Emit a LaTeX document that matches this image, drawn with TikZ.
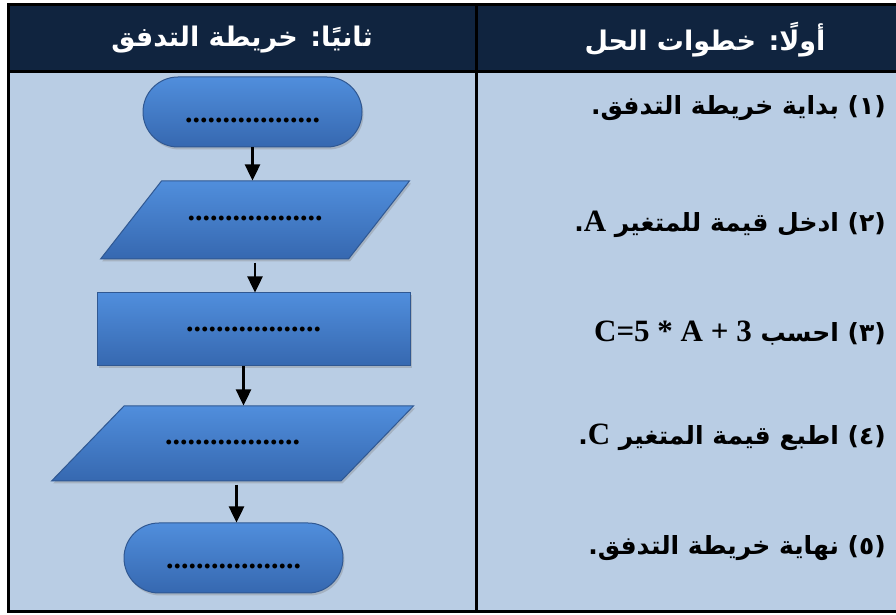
\documentclass[tikz,border=0pt]{standalone}
\usepackage{fontspec}
\usepackage{tikz}
\usetikzlibrary{shapes.geometric,arrows.meta,shadows}
\TeXXeTstate=1
\newfontfamily\arabicfont[Script=Arabic]{DejaVu Sans}
\newfontfamily\latinfont{Liberation Serif}
\newcommand\latinbit[1]{{\latinfont\bfseries\fontsize{31}{31}\selectfont #1}}
\definecolor{headblue}{RGB}{16,36,63}
\definecolor{cellblue}{RGB}{185,205,228}
\definecolor{boxtop}{RGB}{80,142,220}
\definecolor{boxbot}{RGB}{54,104,176}
\definecolor{boxline}{RGB}{48,88,146}

\begin{document}
\begin{tikzpicture}[x=1pt,y=1pt,
  box/.style={draw=boxline,line width=1pt,top color=boxtop,bottom color=boxbot,
    drop shadow={opacity=0.35,shadow xshift=1.5pt,shadow yshift=-2.5pt},
    font=\latinfont\bfseries\fontsize{30}{30}\selectfont,inner sep=0pt,
    text height=4pt,text depth=0pt},
  termbox/.style={box,rectangle,rounded corners=35pt,minimum width=219pt,minimum height=70pt,
    text height=22pt},
  procbox/.style={box,rectangle,minimum width=313pt,minimum height=73pt},
  iobox/.style={box,trapezium,align=center},
  flow/.style={line width=2.5pt,-{Triangle[length=16pt,width=15pt]}},
  headtext/.style={text=white,font=\arabicfont\bfseries\fontsize{27}{27}\selectfont},
  steptext/.style={anchor=east,inner sep=0pt,font=\arabicfont\bfseries\fontsize{25}{25}\selectfont}]
\useasboundingbox (0,0) rectangle (896,615);
\clip (0,0) rectangle (896,615);
% table:
\path[fill=headblue] (8,610) rectangle (933,543);
\path[fill=cellblue] (8,543) rectangle (933,3);
\draw[line width=3pt] (8,610) rectangle (933,3);
\draw[line width=3pt] (8,543) -- (933,543);
\draw[line width=3pt] (476,610) -- (476,3);
\node[headtext] (h1) at (705,575) {\beginR أولًا\kern0pt: خطوات الحل\endR};
\node[headtext] (h2) at (242,575) {\beginR ثانيًا\kern0pt: خريطة التدفق\endR};
% steps:
\node[steptext] (s1) at (886,507) {\beginR (١) بداية خريطة التدفق\kern0pt.\endR};
\node[steptext] (s2) at (886,391) {\beginR (٢) ادخل قيمة للمتغير \beginL\latinbit{A}\endL\kern0pt.\endR};
\node[steptext] (s3) at (886,282) {\beginR (٣) احسب \beginL\latinbit{C=5 * A + 3}\endL\endR};
\node[steptext] (s4) at (886,178) {\beginR (٤) اطبع قيمة المتغير \beginL\latinbit{C}\endL\kern0pt.\endR};
\node[steptext] (s5) at (886,67) {\beginR (٥) نهاية خريطة التدفق\kern0pt.\endR};
% flowchart:
\node[termbox] (t1) at (252.5,503) {..................};
\node[iobox,trapezium left angle=52,trapezium right angle=128,
  text width=187pt,text height=40pt,text depth=38pt] (p1) at (255,395) {..................};
\node[procbox] (r1) at (253.5,285.5) {..................};
\node[iobox,trapezium left angle=46,trapezium right angle=134,
  text width=217pt,text height=38.5pt,text depth=36.5pt] (p2) at (232.5,171.5) {..................};
\node[termbox] (t2) at (233.5,57) {..................};
\draw[flow] (t1.south) -- (t1.south |- p1.north);
\draw[flow,shorten <=3pt] (p1.south) -- (p1.south |- r1.north);
\draw[flow] ([xshift=-10pt]r1.south) -- ([xshift=-10pt]r1.south |- p2.north);
\draw[flow,shorten <=3pt] ([xshift=4pt]p2.south) -- ([xshift=4pt]p2.south |- t2.north);
\end{tikzpicture}
\end{document}
